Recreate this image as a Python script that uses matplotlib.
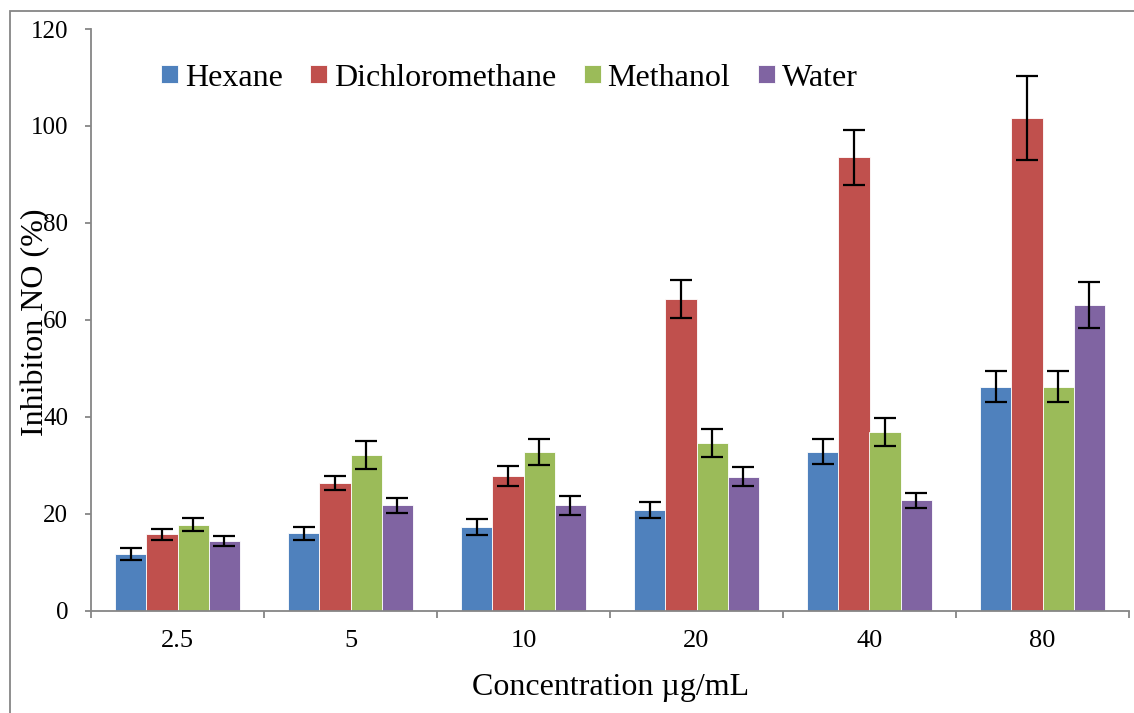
import numpy as np
import matplotlib
matplotlib.use("Agg")
import matplotlib.pyplot as plt
from matplotlib.patches import Rectangle

plt.rcParams['font.family'] = ['Liberation Serif', 'DejaVu Serif']

# data
concentrations = ['2.5', '5', '10', '20', '40', '80']
solvents = ['Hexane', 'Dichloromethane', 'Methanol', 'Water']
colors = ['#4F81BD', '#C0504D', '#9BBB59', '#8064A2']

hexane = [11.7, 15.9, 17.2, 20.7, 32.8, 46.2]
dichloromethane = [15.7, 26.3, 27.8, 64.2, 93.5, 101.6]
methanol = [17.7, 32.0, 32.7, 34.5, 36.8, 46.2]
water = [14.4, 21.7, 21.7, 27.6, 22.7, 63.0]

hexane_err = [1.2, 1.3, 1.6, 1.7, 2.6, 3.2]
dichloromethane_err = [1.2, 1.5, 2.1, 3.9, 5.7, 8.7]
methanol_err = [1.3, 2.9, 2.7, 2.9, 2.9, 3.2]
water_err = [1.0, 1.6, 1.9, 2.0, 1.6, 4.7]

values = [hexane, dichloromethane, methanol, water]
errors = [hexane_err, dichloromethane_err, methanol_err, water_err]

fig = plt.figure(figsize=(11.34, 7.13), dpi=100)
ax = fig.add_axes([91/1134, 1 - 610.5/713, 1038/1134, 581.5/713])

x = np.arange(len(concentrations))
w = 0.181
for i in range(4):
    ax.bar(x + (i - 1.5) * w, values[i], w, color=colors[i], label=solvents[i],
           edgecolor='white', linewidth=0.6,
           yerr=errors[i],
           error_kw=dict(ecolor='black', elinewidth=1.6, capsize=8, capthick=1.6))

ax.set_xlim(-0.5, len(concentrations) - 0.5)
ax.set_ylim(0, 120)
ax.set_yticks(range(0, 121, 20))
ax.set_xticks(x)
ax.set_xticklabels(concentrations)
ax.set_xticks(np.arange(-0.5, len(concentrations)), minor=True)

for s in ['top', 'right']:
    ax.spines[s].set_visible(False)
for s in ['left', 'bottom']:
    ax.spines[s].set_color('#868686')
    ax.spines[s].set_linewidth(1.3)

ax.tick_params(axis='y', direction='out', length=4.5, width=1.3, color='#868686',
               labelsize=18, pad=12)
ax.tick_params(axis='x', which='major', length=0, labelsize=19, pad=14)
ax.tick_params(axis='x', which='minor', direction='out', length=5, width=1.3, color='#868686')

fig.text(36/1134, 1 - 322/713, 'Inhibiton NO (%)', rotation=90, ha='center', va='center', fontsize=23)
fig.text(611/1134, 1 - 688/713, 'Concentration µg/mL', ha='center', va='center', fontsize=23)

ax.legend(loc='center left', bbox_to_anchor=(161/1134, 1 - 78/713), bbox_transform=fig.transFigure,
          ncol=4, frameon=False, fontsize=23, borderpad=0, borderaxespad=0,
          handlelength=0.52, handleheight=0.52, handletextpad=0.22, columnspacing=0.87)

# grey frame around the chart area
fig.add_artist(Rectangle((10/1134, -0.1), 1.2, 0.1 + 1 - 11/713, transform=fig.transFigure,
                         fill=False, edgecolor='#868686', linewidth=1.3, clip_on=False))

fig.savefig('out.png', dpi=100)
